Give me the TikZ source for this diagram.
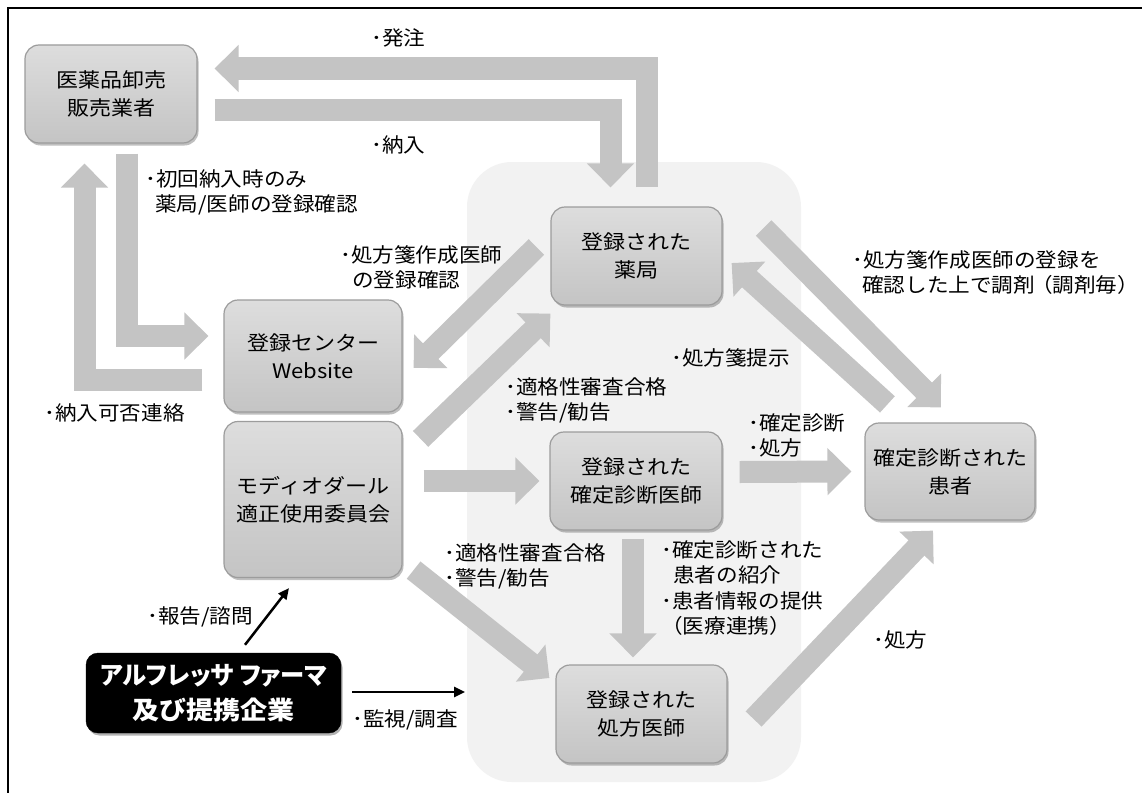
\documentclass[tikz,border=0pt]{standalone}
\usepackage{fontspec}
\newfontfamily\jp[FakeStretch=1.08]{Noto Sans CJK JP}
\newfontfamily\jpnode[FakeStretch=1.1]{Noto Sans CJK JP}
\newfontfamily\jpbold[FakeStretch=1.08,RawFeature=+palt]{Noto Sans CJK JP}
\usetikzlibrary{arrows.meta,shadows,calc}
\definecolor{arrowgray}{HTML}{C4C4C4}
\definecolor{bggray}{HTML}{F2F2F2}
\definecolor{boxtop}{HTML}{DDDDDD}
\definecolor{boxbot}{HTML}{C4C4C4}
\definecolor{boxedge}{HTML}{9C9C9C}
\begin{document}
\begin{tikzpicture}[x=1pt,y=-1pt,
  box/.style={rectangle, rounded corners=14pt, draw=boxedge, line width=1.2pt,
    top color=boxtop, bottom color=boxbot,
    drop shadow={shadow xshift=1.5pt, shadow yshift=-2.5pt, fill=black, opacity=0.25},
    align=center, inner sep=2pt, font={\jpnode\fontsize{20}{28}\selectfont}},
  abox/.style={rectangle, rounded corners=12pt, draw=black, fill=black, text=white,
    drop shadow={shadow xshift=1.5pt, shadow yshift=-2.5pt, fill=black, opacity=0.3},
    align=center, inner sep=2pt, font={\jpbold\bfseries\fontsize{25}{35}\selectfont}},
  lbl/.style={inner sep=0pt, align=left, font={\jp\fontsize{20}{25.5}\selectfont}},
  fat/.style={draw=arrowgray, line width=22pt, line join=miter, -{Triangle[width=46pt,length=24pt]}},
  thinarrow/.style={draw=black, line width=2.5pt, -{Triangle[width=10pt,length=11pt]}}]
\useasboundingbox (0,0) rectangle (1142,792);
\fill[white] (0,0) rectangle (1142,792);
% grouping background
\fill[bggray, rounded corners=45pt] (467,162) rectangle (801,782);
% frame
\draw[line width=2pt] (8,800) -- (8,8) -- (1150,8);

% nodes
\node[box, minimum width=172pt, minimum height=98pt] (W) at (111,94) {医薬品卸売\\販売業者};
\node[box, minimum width=178pt, minimum height=112pt] (R) at (313,356) {登録センター\\Website};
\node[box, minimum width=178pt, minimum height=156pt] (M) at (313,499.5) {モディオダール\\適正使用委員会};
\node[abox, minimum width=255pt, minimum height=80pt] (A) at (213.5,693) {\scalebox{0.9}[1]{アルフレッサ ファーマ}\\及び提携企業};
\node[box, minimum width=171pt, minimum height=98pt] (P) at (636.5,256) {登録された\\薬局};
\node[box, minimum width=172pt, minimum height=98pt] (D) at (636,481) {登録された\\確定診断医師};
\node[box, minimum width=171pt, minimum height=98pt] (X) at (641.5,714) {登録された\\処方医師};
\node[box, minimum width=170pt, minimum height=97pt] (Pt) at (950,471.5) {確定診断された\\患者};
\coordinate (mon) at (465,692);

% fat arrows
\draw[fat] ($(P.north)+(10.5,-19)$) |- ($(W.east)+(17,-25.5)$);
\draw[fat] ($(W.east)+(17,16)$) -| ($(P.north)+(-26,-19)$);
\draw[fat] ($(W.south)+(15.5,10)$) |- ($(R.west)+(-15,-20)$);
\draw[fat] ($(R.west)+(-21,24)$) -| ($(W.south)+(-26.5,20)$);
\draw[fat] ($(P.west)+(-14,-9)$) -- ($(R.east)+(11,12)$);
\draw[fat] ($(M.north east)+(18,18)$) -- ($(P.south west)+(0,8)$);
\draw[fat] ($(M.east |- D.west)+(21,0)$) -- ($(D.west)+(-10,0)$);
\draw[fat] ($(D.east)+(17,-9)$) -- ($(Pt.west)+(-13,0)$);
\draw[fat] ($(P.east)+(41,-28)$) -- ($(Pt.north)+(-9,-15)$);
\draw[fat] ($(Pt.north west)+(23,-18)$) -- ($(P.east)+(9,7)$);
\draw[fat] ($(M.south east)+(11,-8)$) -- ($(X.west)+(-6,-36)$);
\draw[fat] ($(D.south)+(-3,8)$) -- ($(D.south |- X.north)+(-3,-7)$);
\draw[fat] ($(X.east)+(26,5)$) -- ($(Pt.south)+(-17,10)$);
% thin black arrows
\draw[thinarrow] ($(A.north)+(31.5,-8)$) -- ($(M.south)+(-24,10)$);
\draw[thinarrow] ($(A.east)+(11,-1)$) -- (mon);

% labels
\node[lbl, anchor=west] (l1) at (371,38) {･発注};
\node[lbl, anchor=west] (l2) at (371,145) {･納入};
\node[lbl, anchor=north west] (l3) at (145,169) {･初回納入時のみ\\\hspace*{10pt}薬局/医師の登録確認};
\node[lbl, anchor=north west] (l4) at (340,245) {･処方箋作成医師\\\hspace*{12pt}の登録確認};
\node[lbl, anchor=west] (l5) at (44,413) {･納入可否連絡};
\node[lbl, anchor=north west] (l6) at (505,377) {･適格性審査合格\\･警告/勧告};
\node[lbl, anchor=west] (l7) at (671,358) {･処方箋提示};
\node[lbl, anchor=north west] (l8) at (852,250) {･処方箋作成医師の登録を\\\hspace*{10pt}確認した上で調剤\kern-0.2em（調剤毎）};
\node[lbl, anchor=north west] (l9) at (748,413) {･確定診断\\･処方};
\node[lbl, anchor=north west] (l10) at (444,543) {･適格性審査合格\\･警告/勧告};
\node[lbl, anchor=north west] (l11) at (661,540) {･確定診断された\\\hspace*{12pt}患者の紹介\\･患者情報の提供\\（医療連携）};
\node[lbl, anchor=west] (l12) at (873,640) {･処方};
\node[lbl, anchor=west] (l13) at (147,617) {･報告/諮問};
\node[lbl, anchor=west] (l14) at (352,720) {･監視/調査};
\end{tikzpicture}
\end{document}
